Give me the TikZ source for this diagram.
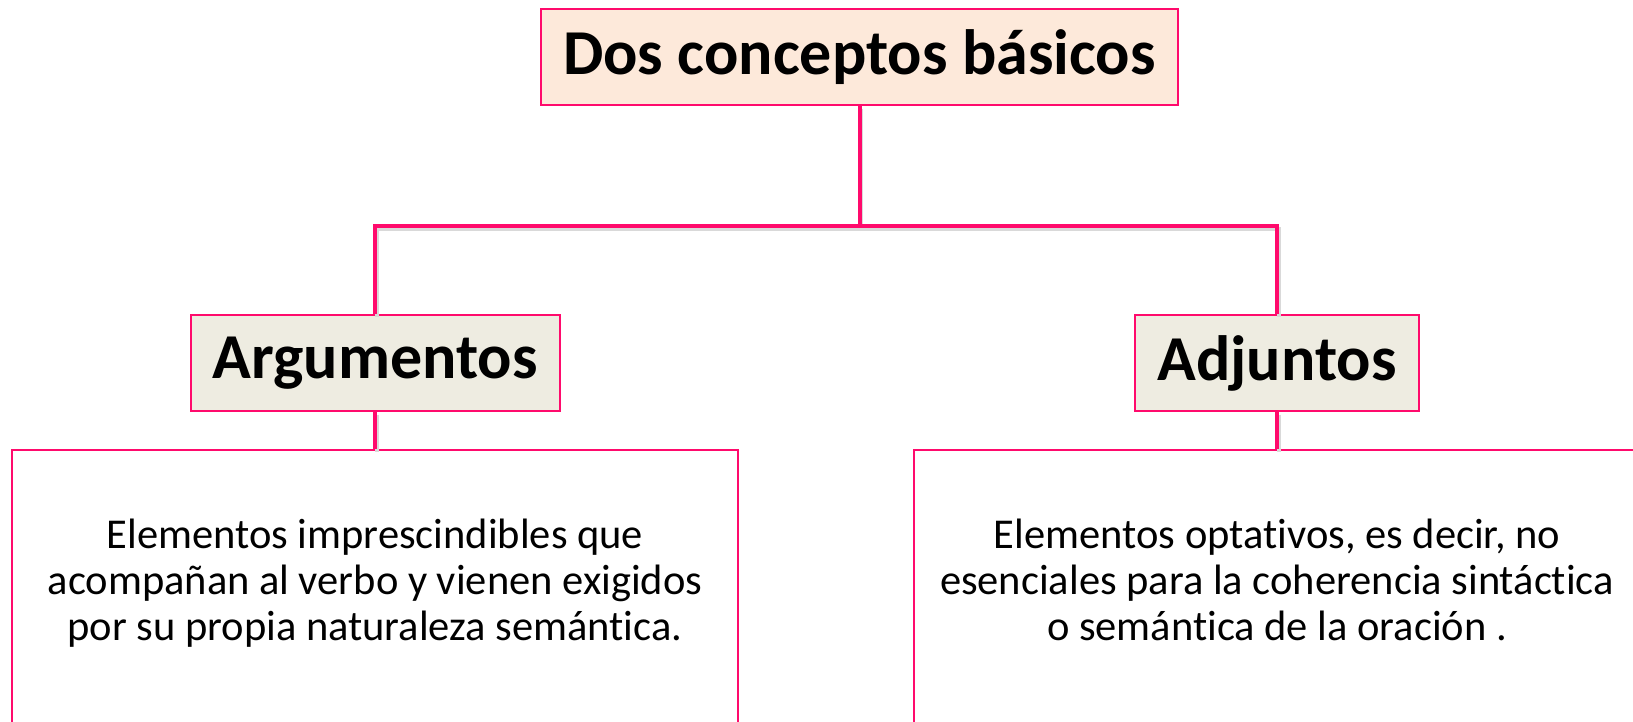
\documentclass[tikz,border=0pt]{standalone}
\usepackage{fontspec}
\setmainfont{Carlito}[Ligatures=CommonOff]
\usetikzlibrary{positioning}
\definecolor{rosa}{HTML}{FF0A6C}
\definecolor{melocoton}{HTML}{FDE9DA}
\definecolor{crema}{HTML}{EEECE1}
\tikzset{
	titulo/.style={draw=rosa,line width=2pt,fill=melocoton,minimum width=637pt,minimum height=96pt,font=\fontsize{64}{70}\selectfont\bfseries},
	concepto/.style={draw=rosa,line width=2pt,fill=crema,minimum height=96pt,inner xsep=22pt,font=\fontsize{64}{70}\selectfont\bfseries},
	definicion/.style={draw=rosa,line width=1.5pt,anchor=north,minimum width=726pt,minimum height=290pt,align=center,font=\fontsize{42.5}{46}\selectfont},
	enlace/.style={draw=rosa,line width=4pt,preaction={draw=black!15,line width=4pt,transform canvas={shift={(1.5pt,-2.5pt)}}}}
}
\begin{document}
\begin{tikzpicture}[x=1pt,y=-1pt]
	\useasboundingbox (0,0) rectangle (1633,721);
	\clip (0,0) rectangle (1633,721);
	\node[titulo] (dos) at (859.5,57) {Dos conceptos básicos};
	\node[concepto] (arg) at (375,363) {Argumentos};
	\node[concepto] (adj) at (1277,363) {Adjuntos};
	\node[definicion] (defarg) at (375,449) {Elementos imprescindibles que\\acompañan al verbo y vienen exigidos\\por su propia naturaleza semántica.\\[-16pt]};
	\node[definicion] (defadj) at (1277,449) {Elementos optativos, es decir, no\\esenciales para la coherencia sintáctica\\o semántica de la oración .\\[-16pt]};
	\coordinate (bus) at (dos.south |- 0,226);
	\draw[enlace] (dos.south) -- (bus) -| (arg.north);
	\draw[enlace] (bus) -| (adj.north);
	\foreach \c in
	{arg,adj}
	\draw[enlace] (\c.south) -- (def\c.north);
\end{tikzpicture}
\end{document}
